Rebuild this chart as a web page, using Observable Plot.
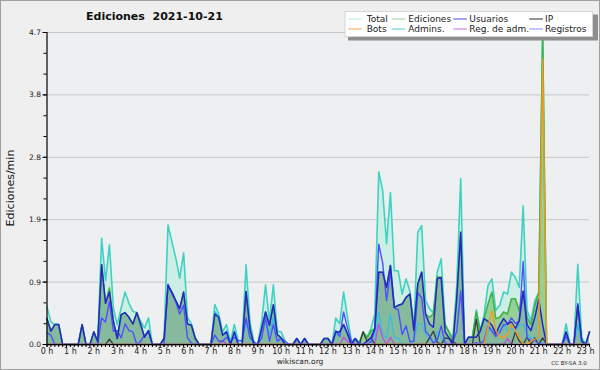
<!DOCTYPE html>
<html><head><meta charset="utf-8">
<script src="https://cdn.jsdelivr.net/npm/d3@7"></script>
<script src="https://cdn.jsdelivr.net/npm/@observablehq/plot@0.6"></script>
<style>
html,body{margin:0;padding:0;background:#efefef;}
#wrap{position:relative;width:600px;height:370px;background:#efefef;overflow:hidden;font-family:"DejaVu Sans",sans-serif;color:#111;}
#chart{position:absolute;left:0;top:0;}
#legend{position:absolute;left:0;top:0;}
.txt{position:absolute;white-space:nowrap;line-height:1;}
#border{position:absolute;left:0;top:0;width:598px;height:368px;border:1px solid #a0a0a0;pointer-events:none;}
#title{left:86px;top:11.4px;font-size:11px;font-weight:bold;color:#111;}
#ylab{left:9.5px;top:187.5px;font-size:11px;transform:translate(-50%,-50%) rotate(-90deg);color:#111;}
#site{left:300px;top:358px;font-size:7.5px;transform:translateX(-50%);color:#222;}
#lic{left:569px;top:360.6px;font-size:5.5px;transform:translateX(-50%);color:#222;}
</style>
</head><body>
<div id="wrap">
  <div id="chart"></div>
  <svg id="legend" width="600" height="45"></svg>
  <div class="txt" id="title">Ediciones&nbsp; 2021-10-21</div>
  <div class="txt" id="ylab">Ediciones/min</div>
  <div class="txt" id="site">wikiscan.org</div>
  <div class="txt" id="lic">CC BY-SA 3.0</div>
  <div id="border"></div>
</div>
<script>
// 10-minute slots from 0:00 to 23:10
const total = [
0.57,0.34,0.3,0.3,0,0,0,0,0,0.3,
0,0,0.19,0.04,1.6,0.96,1.5,0.55,0.3,0.55,
0.79,0.62,0.5,0.48,0.35,0.25,0.4,0,0,0,
0.1,1.8,1.55,1.3,1.0,1.38,0.41,0.31,0.1,0,
0,0,0,0.6,0.46,0.19,0.3,0.04,0.3,0.06,
0.05,1.2,0.34,0.04,0,0.34,0.9,0.34,0.9,0.2,
0.19,0.05,0,0,0.09,0,0.09,0,0,0,
0,0.09,0.09,0,0.4,0.31,0.79,0.41,0.05,0.09,
0.03,0.19,0.11,0.24,0.46,2.6,2.32,1.52,2.29,1.11,
1.11,0.76,0.99,0.8,0.26,1.69,1.79,0.66,0.54,0.48,
1.09,1.29,0.31,0.19,0.1,0.9,2.5,0,0.11,0.11,
0.52,0.21,0.45,0.89,0.99,0.51,0.59,0.79,0.76,1.09,
1.01,0.86,2.09,0.51,0.36,0.66,0.78,4.7,0,0,
0,0,0,0.31,0,0,1.21,0.11,0,0.19];
const ediciones = [
0.39,0.2,0.3,0.3,0,0,0,0,0,0.3,
0,0,0.19,0.04,1.2,0.62,0.85,0.35,0.09,0.45,
0.48,0.41,0.31,0.48,0.3,0.11,0.21,0,0,0,
0.09,0.89,0.79,0.66,0.54,0.79,0.31,0.29,0.09,0,
0,0,0,0.46,0.41,0.14,0.19,0,0.19,0,
0,0.8,0.24,0,0,0.24,0.49,0.29,0.6,0.15,
0.1,0,0,0,0.09,0,0.09,0,0,0,
0,0.09,0.09,0,0.19,0.19,0.3,0.16,0,0.09,
0,0.19,0.1,0.2,0.24,1.09,1.09,0.86,1.19,0.56,
0.59,0.61,0.71,0.76,0.21,0.91,1.09,0.46,0.41,0.46,
1.02,1.01,0.29,0.19,0.05,0.7,1.69,0,0.11,0.11,
0.49,0.21,0.39,0.61,0.79,0.39,0.41,0.49,0.46,0.69,
0.69,0.51,0.81,0.41,0.3,0.59,0.78,4.7,0,0,
0,0,0,0.19,0,0,0.59,0.05,0,0.19];
const usuarios = [
0.39,0.2,0.3,0.3,0,0,0,0,0,0.3,
0,0,0.19,0.04,1.2,0.62,0.79,0.35,0.09,0.45,
0.48,0.41,0.31,0.48,0.3,0.11,0.21,0,0,0,
0.09,0.89,0.79,0.66,0.54,0.79,0.31,0.29,0.09,0,
0,0,0,0.46,0.41,0.14,0.19,0,0.19,0,
0,0.8,0.24,0,0,0.24,0.49,0.29,0.6,0.15,
0.1,0,0,0,0.09,0,0.09,0,0,0,
0,0.09,0.09,0,0.19,0.19,0.3,0.16,0,0.09,
0,0,0.05,0.1,0.24,1.09,1.09,0.86,1.19,0.56,
0.59,0.61,0.71,0.76,0.21,0.91,1.09,0.46,0.31,0.26,
0.99,1.01,0.19,0.1,0,0.7,1.69,0,0.11,0.11,
0.11,0.2,0.39,0.35,0.29,0.16,0.29,0.39,0.31,0.34,
0.24,0.36,0.8,0.3,0.21,0.41,0.68,0.3,0,0,
0,0,0,0.19,0,0,0.59,0.05,0,0.19];
const ip = [
0,0,0,0,0,0,0,0,0,0,
0,0,0,0,0,0,0.08,0,0,0,
0,0,0,0,0,0,0,0,0,0,
0,0,0,0,0,0,0,0,0,0,
0,0,0,0,0,0,0,0,0,0,
0,0,0,0,0,0,0,0,0,0,
0,0,0,0,0,0,0,0,0,0,
0,0,0,0,0,0,0,0,0,0,
0,0.19,0.05,0.1,0,0,0,0,0,0,
0,0,0,0,0,0,0,0,0.1,0.2,
0.03,0,0.1,0.09,0.05,0,0,0,0,0,
0.38,0.01,0,0,0,0,0,0,0,0,
0.19,0.05,0,0.11,0,0.1,0,0.1,0,0,
0,0,0,0,0,0,0,0,0,0];
const bots = [
0,0,0,0,0,0,0,0,0,0,
0,0,0,0,0,0,0,0,0,0,
0,0,0,0,0,0,0,0,0,0,
0,0,0,0,0,0,0,0,0,0,
0,0,0,0,0,0,0,0,0,0,
0,0,0,0,0,0,0,0,0,0,
0,0,0,0,0,0,0,0,0,0,
0,0,0,0,0,0,0,0,0,0,
0,0,0,0,0,0,0,0,0,0,
0,0,0,0,0,0,0,0,0,0,
0,0,0,0,0,0,0,0,0,0,
0,0,0,0.26,0.51,0.21,0.12,0.1,0.15,0.31,
0.21,0.1,0.01,0,0.05,0.08,0.1,4.3,0,0,
0,0,0,0,0,0,0,0,0,0];
const admins = [
0,0,0,0,0,0,0,0,0,0,
0,0,0,0,0,0,0,0,0,0,
0,0,0,0,0,0,0,0,0,0,
0,0,0,0,0,0,0,0,0,0,
0,0,0,0.5,0.42,0.15,0.2,0,0.2,0,
0,0.35,0.1,0,0,0.15,0.35,0.15,0.4,0.05,
0.1,0,0,0,0.09,0,0.09,0,0,0,
0,0.09,0.09,0,0.15,0.15,0.29,0.15,0,0,
0,0,0,0,0.1,0.49,0.15,0.1,0.46,0.1,
0.1,0,0,0,0.05,0.31,0.31,0.15,0.1,0,
0.2,0.1,0,0,0,0,0,0,0,0,
0,0,0,0.2,0.25,0.2,0.2,0.3,0.2,0.25,
0.2,0.3,0.3,0.15,0.1,0.1,0.1,0,0,0,
0,0,0,0.15,0,0,0.3,0,0,0];
const regAdm = [
0,0,0,0,0,0,0,0,0,0,
0,0,0,0,0,0,0,0,0,0,
0,0,0,0,0,0,0,0,0,0,
0,0,0,0,0,0,0,0,0,0,
0,0,0,0,0,0.06,0,0,0,0,
0,0,0,0,0,0,0,0,0,0,
0,0,0,0,0,0,0,0,0,0,
0,0,0,0,0,0,0.11,0.05,0,0,
0,0,0,0,0,0.31,0.1,0,0.11,0,
0,0,0,0,0,0,0,0,0,0,
0,0,0,0,0,0,0,0,0,0,
0,0,0,0,0,0,0,0,0.09,0,
0,0,0,0,0,0,0,0,0,0,
0,0,0,0,0,0,0,0,0,0];
const registros = [
0.18,0.14,0,0,0,0,0,0,0,0,
0,0,0,0,0.4,0.34,0.65,0.2,0.21,0.1,
0.31,0.21,0.19,0,0.05,0.14,0.19,0,0,0,
0,0.91,0.76,0.64,0.46,0.59,0.1,0.02,0,0,
0,0,0,0.14,0.05,0.05,0.11,0.04,0.11,0.06,
0.05,0.4,0.1,0.04,0,0.1,0.41,0.05,0.3,0.05,
0.09,0.05,0,0,0,0,0,0,0,0,
0,0,0,0,0.21,0.12,0.49,0.25,0.05,0,
0.03,0,0.01,0.04,0.22,1.51,1.23,0.66,1.1,0.55,
0.52,0.15,0.28,0.04,0.05,0.78,0.7,0.2,0.13,0.02,
0.07,0.28,0.02,0,0.05,0.2,0.81,0,0,0,
0.03,0,0.06,0.28,0.2,0.12,0.18,0.3,0.3,0.4,
0.32,0.35,1.25,0.1,0.06,0.07,0,0,0,0,
0,0,0,0.12,0,0,0.62,0.06,0,0];

const hourTicks = d3.range(0, 24);
const hourLabels = hourTicks.map(h => h + " h");
const yMax = 4.7;

const seriesNames = ["Total","Ediciones","Usuarios","IP","Bots","Admins.","Reg. de adm.","Registros"];
const lineColors = ["#3fd2c3","#3db245","#2626c4","#3a3a3a","#f29a1e","#35bfe0","#c649e0","#4f4fff"];
const legendColors = ["#aee9e6","#8fd88f","#4646dc","#2a2a2a","#f2a444","#4cc8dc","#d266e6","#8a8aff"];

const rows = total.map((t, i) => ({
  h: i / 6, total: t, ediciones: ediciones[i], usuarios: usuarios[i], ip: ip[i],
  bots: bots[i], admins: admins[i], regAdm: regAdm[i], registros: registros[i]
}));
const yMajor = d3.range(0, 6).map(k => yMax * k / 5);
const yMinor = d3.range(0, 16).map(k => yMax * k / 15);
const xMinor = d3.range(0, total.length).map(i => i / 6);

const ln = (key, color, w) => Plot.line(rows, {x: "h", y: key, stroke: color, strokeWidth: w});

const chart = Plot.plot({
  width: 600, height: 370,
  marginLeft: 46.5, marginRight: 11, marginTop: 32, marginBottom: 26,
  x: {domain: [0, (total.length - 1) / 6]},
  y: {domain: [0, yMax]},
  style: {background: "transparent", fontFamily: "DejaVu Sans, sans-serif", color: "#222"},
  marks: [
    Plot.frame({fill: "#edeff1", stroke: "none"}),
    Plot.ruleY(yMajor.slice(1), {stroke: "#c6c6c6", strokeWidth: 1}),
    Plot.areaY(rows, {x: "h", y: "total", fill: "#cdeee5"}),
    Plot.areaY(rows, {x: "h", y: "ediciones", fill: "#97d097"}),
    Plot.areaY(rows, {x: "h", y: "usuarios", fill: "#2f4fc0", fillOpacity: 0.17}),
    ln("total", lineColors[0], 1.6),
    ln("ediciones", lineColors[1], 1.5),
    ln("admins", lineColors[5], 1.3),
    ln("regAdm", lineColors[6], 1.3),
    ln("ip", lineColors[3], 1.3),
    ln("registros", lineColors[7], 1.4),
    ln("usuarios", lineColors[2], 1.5),
    ln("bots", lineColors[4], 1.4),
    Plot.ruleY([0], {stroke: "#000", strokeWidth: 1.2}),
    Plot.ruleX([0], {stroke: "#000", strokeWidth: 1.2}),
    Plot.axisY({ticks: yMajor, tickFormat: d => d.toFixed(1), tickSize: 4, tickPadding: 2, fontSize: 7.5, label: null, stroke: "#000"}),
    Plot.axisY({ticks: yMinor, tickFormat: () => "", tickSize: 3, label: null, stroke: "#000"}),
    Plot.axisX({ticks: hourTicks, tickFormat: (d, i) => hourLabels[i], tickSize: 3, tickPadding: 1, fontSize: 8, label: null, stroke: "#000"}),
    Plot.axisX({ticks: xMinor, tickFormat: () => "", tickSize: 3, label: null, stroke: "#000"})
  ]
});
document.getElementById("chart").appendChild(chart);

// legend
const lg = d3.select("#legend");
lg.append("rect").attr("x", 348).attr("y", 14.5).attr("width", 250).attr("height", 26).attr("fill", "#8e8e8e");
lg.append("rect").attr("x", 345).attr("y", 11.5).attr("width", 247.5).attr("height", 25).attr("fill", "#fff").attr("stroke", "#d6d6d6");
const colX = [[348.3, 366.7], [391.7, 408.3], [453.3, 469.3], [529.3, 545]];
seriesNames.forEach((name, k) => {
  const col = k % 4, row = Math.floor(k / 4);
  const [lx, tx] = colX[col];
  const cy = row === 0 ? 19 : 29;
  lg.append("line").attr("x1", lx).attr("x2", lx + 13.5).attr("y1", cy).attr("y2", cy)
    .attr("stroke", legendColors[k]).attr("stroke-width", 1);
  lg.append("text").attr("x", tx).attr("y", cy + 3.3).attr("font-size", 9)
    .attr("font-family", "DejaVu Sans, sans-serif").attr("fill", "#222").text(name);
});
</script>
</body></html>
